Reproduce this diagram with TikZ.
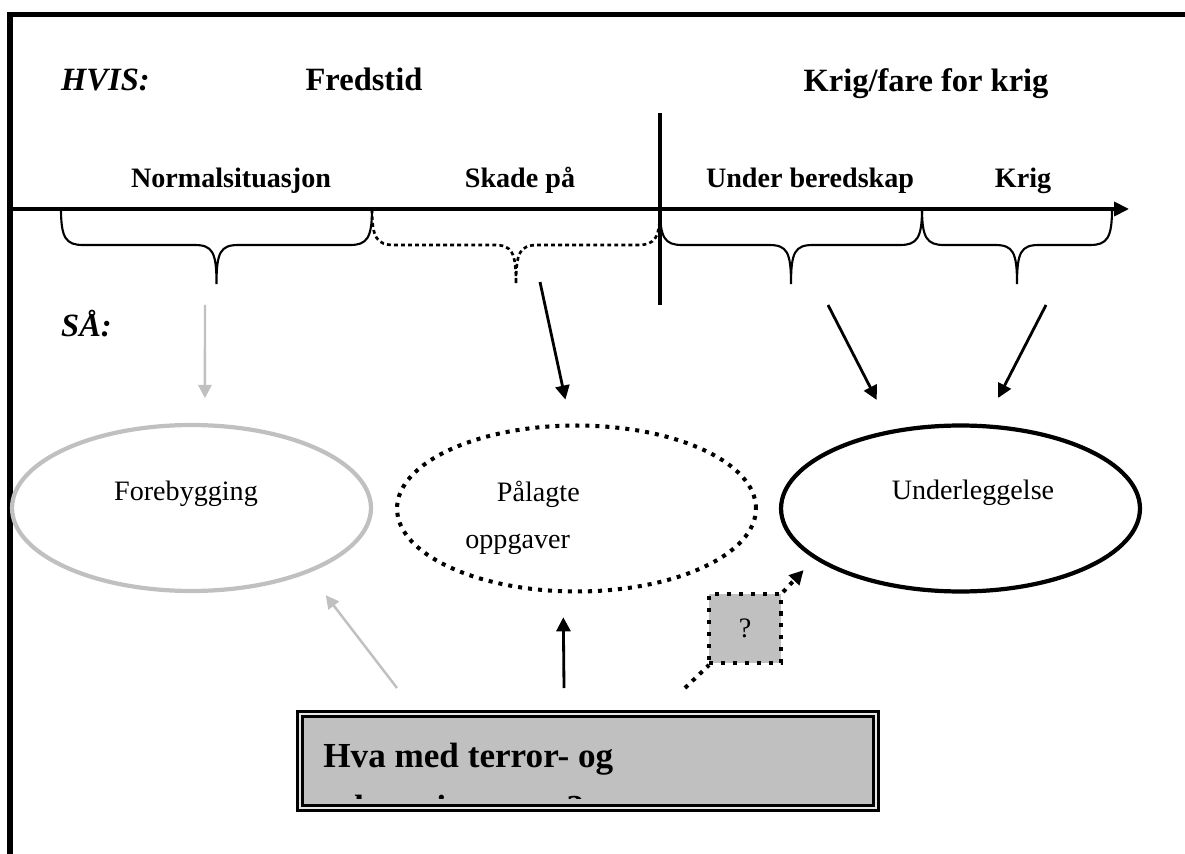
\documentclass[tikz,border=0pt]{standalone}
\usepackage{fontspec}
\setmainfont{Liberation Serif}
\usetikzlibrary{arrows.meta}
\usetikzlibrary{shapes.geometric}
\definecolor{lysgraa}{RGB}{192,192,192}
% klamme under tidslinja: stil, fra x, til x
\def\klamme#1#2#3{\draw[#1] (#2,209) .. controls (#2,238) and ({#2+5},245) .. ({#2+22},245)
  -- ({(#2+#3)/2-22},245) .. controls ({(#2+#3)/2-4},245) and ({(#2+#3)/2},252) .. ({(#2+#3)/2},284)
  .. controls ({(#2+#3)/2},252) and ({(#2+#3)/2+4},245) .. ({(#2+#3)/2+22},245)
  -- ({#3-22},245) .. controls ({#3-5},245) and (#3,238) .. (#3,209);}
\begin{document}
\begin{tikzpicture}[x=0.02cm,y=-0.02cm,
		overskrift/.style={font=\fontsize{18.5}{22}\selectfont\bfseries,anchor=base},
		fase/.style={font=\fontsize{16}{19}\selectfont\bfseries,anchor=base},
		tekst/.style={font=\fontsize{16}{19}\selectfont,anchor=base},
		omraade/.style={ellipse,inner sep=0pt,minimum width=7.18cm,minimum height=3.32cm,line width=2.4pt},
		prikket/.style={line width=2.3pt,dash pattern=on 2.3pt off 3.4pt},
		pil/.style={-{Triangle[length=8pt,width=8pt]},line width=1.6pt},
		graapil/.style={-{Triangle[length=7.5pt,width=7.5pt]},line width=1.4pt,draw=lysgraa}]
		\useasboundingbox (0,0) rectangle (1185,854);
		
		\draw[line width=3.1pt] (10,854) -- (10,14.5) -- (1185,14.5);
		
		\node[overskrift,anchor=base west,font=\fontsize{18.5}{22}\selectfont\bfseries\itshape] (hvis) at (55,91) {HVIS:};
		\node[overskrift] (fred) at (364,91) {Fredstid};
		\node[overskrift] (krigfare) at (926,92) {Krig/fare for krig};
		
		\node[fase] (normal) at (231,188) {Normalsituasjon};
		\node[fase] (skade) at (520,188) {Skade på};
		\node[fase] (bered) at (810,188) {Under beredskap};
		\node[fase] (krig) at (1023,188) {Krig};
		
		\draw[-{Triangle[length=8.5pt,width=8pt]},line width=2pt] (8,209) -- (1129,209);
		\draw[line width=2.5pt] (660,113) -- (660,305);
		
		\klamme{line width=1.2pt}{61}{372}
		\klamme{line width=1.5pt,dash pattern=on 2.2pt off 1.8pt}{372}{660}
		\klamme{line width=1.2pt}{660}{922}
		\klamme{line width=1.2pt}{922}{1112}
		
		\node[overskrift,anchor=base west,font=\fontsize{18.5}{22}\selectfont\bfseries\itshape] (saa) at (55,337) {SÅ:};
		
		\node[omraade,draw=lysgraa] (foreb) at (191.5,508) {};
		\node[omraade,draw=black,prikket] (plikt) at (576.5,508.5) {};
		\node[omraade,draw=black] (under) at (960.5,508.5) {};
		\node[tekst] (tforeb) at (186,500) {Forebygging};
		\node[tekst,anchor=north west,inner sep=0pt,align=left,font=\fontsize{16}{26.6}\selectfont] (tplikt) at (465,481) {\hspace*{18pt}Pålagte\\oppgaver};
		\node[tekst] (tunder) at (973,499) {Underleggelse};
		
		\coordinate (p1) at (205,305);
		\coordinate (p2) at (540,282);
		\coordinate (p3) at (828,305);
		\coordinate (p4) at (1046,305);
		\draw[graapil,shorten >=0.5cm] (p1) -- (foreb.81);
		\draw[pil,shorten >=0.49cm] (p2) -- (plikt.94.4);
		\draw[pil,shorten >=0.67cm] (p3) -- (under.131.5);
		\draw[pil,shorten >=0.59cm] (p4) -- (under.74.9);
		
		\node[draw=black,fill=lysgraa,line width=1.3pt,double=white!60!lysgraa,double distance=1.5pt,
		inner sep=0pt,minimum width=11.52cm,minimum height=1.88cm] (terror) at (588,761) {};
		\begin{scope}
			\clip ([shift={(6,6)}]terror.north west) rectangle ([shift={(-6,-11)}]terror.south east);
			\node[anchor=north west,inner sep=0pt,align=left,font=\fontsize{20}{27}\selectfont\bfseries] (spm) at (323,743) {Hva med terror- og\\[2.5pt]sabotasjeangrep?};
		\end{scope}
		
		\coordinate (q1) at (397,688);
		\coordinate (q2) at (564,688);
		\coordinate (q3) at (685,688);
		\draw[graapil,shorten >=0.56cm] (q1) -- (foreb.-29.2);
		\draw[pil,shorten >=0.48cm] (q2) -- (plikt.261.6);
		\draw[prikket] (q3) -- (709,665);
		\node[draw=black,fill=lysgraa,line width=2.3pt,dash pattern=on 2.3pt off 4.5pt,inner sep=0pt,
		minimum width=1.44cm,minimum height=1.38cm,font=\fontsize{16}{19}\selectfont] (spor) at (745,628.5) {?};
		\draw[prikket,-{Triangle[length=8pt,width=8pt]},shorten >=0.31cm] (spor.north east) -- (under.199.1);
	\end{tikzpicture}
\end{document}
